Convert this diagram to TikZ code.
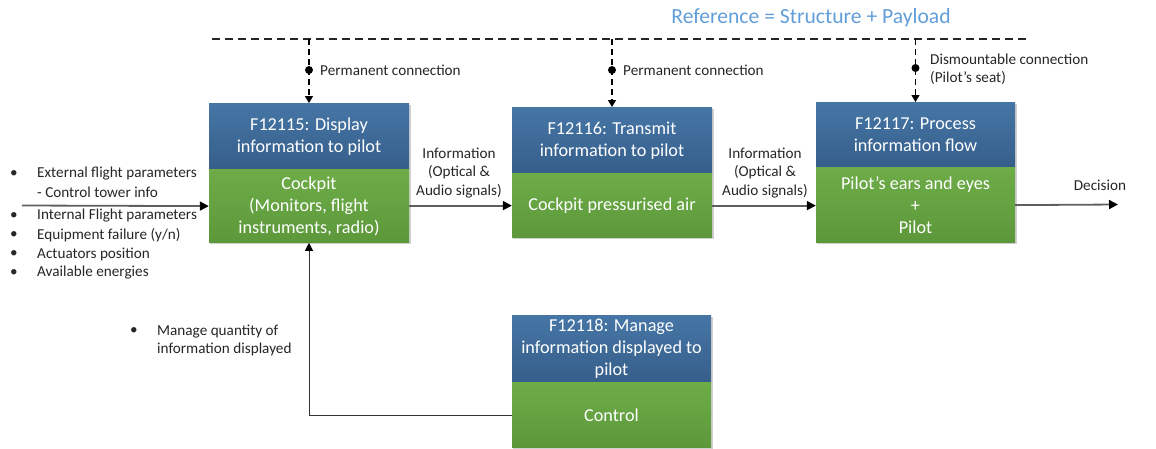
\documentclass[tikz,border=0pt]{standalone}
\usepackage{fontspec}
\setmainfont{Carlito}
\usetikzlibrary{arrows.meta,backgrounds}
\definecolor{hdrtop}{RGB}{70,118,166}
\definecolor{hdrbot}{RGB}{54,94,138}
\definecolor{grntop}{RGB}{110,172,72}
\definecolor{grnbot}{RGB}{92,152,58}
\definecolor{titleblue}{RGB}{98,158,216}
\definecolor{arrgray}{RGB}{95,95,95}
\tikzset{
  boxbase/.style={rectangle, draw=none, text=white, align=center, minimum width=200pt,
    inner sep=2pt, font=\fontsize{18.2}{22}\selectfont},
  hdr/.style={boxbase, top color=hdrtop, bottom color=hdrbot, anchor=north},
  grn/.style={boxbase, top color=grntop, bottom color=grnbot, anchor=north},
  small/.style={inner sep=0pt, font=\fontsize{15.2}{18.3}\selectfont, text=black!85},
  harrow/.style={draw=arrgray, line width=1.8pt, -{Triangle[length=9pt,width=9pt,fill=black,color=black]}},
  vconn/.style={draw=black, line width=1.2pt, dash pattern=on 6pt off 4pt, -{Triangle[length=7pt,width=8pt]}},
  dashtop/.style={draw=black!85, line width=1.4pt, dash pattern=on 8pt off 5pt},
  dot/.style={circle, fill=black, inner sep=0pt, minimum size=8pt},
  fbline/.style={draw=black!80, line width=1pt, -{Triangle[length=8pt,width=8pt,fill=black,color=black]}},
  shade/.style={fill=black!18}
}
\begin{document}
\begin{tikzpicture}[x=1pt,y=1pt]
\useasboundingbox (0,0) rectangle (1156,-448);

% title
\node[text=titleblue, inner sep=0pt, font=\fontsize{21.6}{24}\selectfont] (title) at (811,-18) {Reference = Structure + Payload};

% boxes
\node[hdr, minimum height=66pt] (h1) at (309,-103) {F12115: Display\\information to pilot};
\node[grn, minimum height=73pt] (g1) at (h1.south) {Cockpit\\(Monitors, flight\\instruments, radio)};

\node[hdr, minimum height=66pt] (h2) at (612,-107) {F12116: Transmit\\information to pilot};
\node[grn, minimum height=64pt] (g2) at (h2.south) {Cockpit pressurised air};

\node[hdr, minimum height=65pt, minimum width=199pt] (h3) at (915.5,-102) {F12117: Process\\information flow};
\node[grn, minimum height=75pt, minimum width=199pt] (g3) at (h3.south) {Pilot’s ears and eyes\\+\\Pilot};

\node[hdr, minimum height=67pt, minimum width=199pt] (h4) at (611.5,-315) {F12118: Manage\\information displayed to\\pilot};
\node[grn, minimum height=65pt, minimum width=199pt] (g4) at (h4.south) {Control};

% shadows
\begin{scope}[on background layer]
  \foreach \h/\g in {h1/g1,h2/g2,h3/g3,h4/g4}{
    \fill[shade] ([shift={(1.5pt,-1.5pt)}]\h.north west) rectangle ([shift={(1.5pt,-1.5pt)}]\g.south east);
  }
\end{scope}

% top dashed line and connections
\coordinate (dl) at (212,-39);
\coordinate (dr) at (1030,-39);
\draw[dashtop] (dl) -- (dr);

\draw[vconn] (h1.north |- dl) -- (h1.north);
\draw[vconn] (h2.north |- dl) -- (h2.north);
\draw[vconn] (h3.north |- dl) -- (h3.north);
\node[dot] (d1) at (309,-70) {};
\node[dot] (d2) at (612,-70) {};
\node[dot] (d3) at (915.5,-68) {};

\node[small, anchor=west] (pc1) at (320,-70) {Permanent connection};
\node[small, anchor=west] (pc2) at (623,-70) {Permanent connection};
\node[small, anchor=west, align=left] (dc3) at (930,-69.5) {Dismountable connection\\(Pilot’s seat)};

% horizontal flow
\coordinate (in) at (22,-205.5);
\coordinate (out) at (1118,-204.5);
\draw[harrow] (in) -- (g1.west);
\draw[harrow] (g1.east |- g2.west) -- (g2.west);
\draw[harrow] (g2.east) -- (g3.west |- g2.east);
\draw[harrow] (g3.east) -- (out);

\node[small, align=center] (inf1) at (459,-173) {Information\\(Optical \&\\Audio signals)};
\node[small, align=center] (inf2) at (765,-173) {Information\\(Optical \&\\Audio signals)};
\node[small] (dec) at (1100,-185) {Decision};

% left inputs
\node[small, anchor=west] (b1) at (10,-174) {•};
\node[small, anchor=west] (t1) at (37,-174) {External flight parameters};
\node[small, anchor=west] (t1b) at (37,-192) {- Control tower info};
\node[small, anchor=west] (b2) at (10,-216) {•};
\node[small, anchor=west] (t2) at (37,-216) {Internal Flight parameters};
\node[small, anchor=west] (b3) at (10,-235) {•};
\node[small, anchor=west] (t3) at (37,-235) {Equipment failure (y/n)};
\node[small, anchor=west] (b4) at (10,-254) {•};
\node[small, anchor=west] (t4) at (37,-254) {Actuators position};
\node[small, anchor=west] (b5) at (10,-273) {•};
\node[small, anchor=west] (t5) at (37,-273) {Available energies};

% feedback
\draw[fbline] (g4.west) -| (g1.south);
\node[small, anchor=west] (b6) at (130,-331) {•};
\node[small, anchor=west, align=left] (t6) at (157,-340.5) {Manage quantity of\\information displayed};
\end{tikzpicture}
\end{document}
